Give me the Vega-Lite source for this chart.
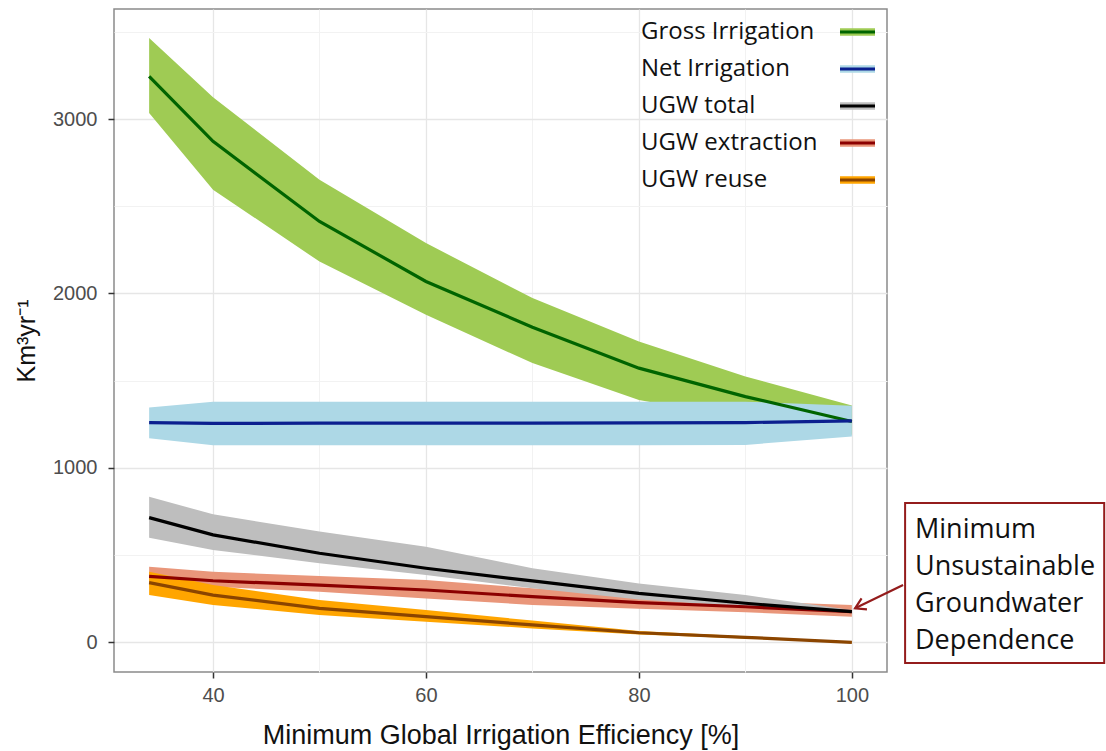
{
  "$schema": "https://vega.github.io/schema/vega-lite/v6.json",
  "width": 773,
  "height": 663,
  "autosize": {"type": "none"},
  "padding": {"left": 114, "top": 9, "right": 219, "bottom": 79},
  "background": "white",
  "config": {
    "view": {"stroke": "#8a8a8a", "strokeWidth": 1.5},
    "axis": {
      "domain": false,
      "tickColor": "#333333",
      "tickSize": 6,
      "tickWidth": 1.5,
      "labelFont": "Liberation Sans",
      "labelFontSize": 20,
      "labelColor": "#4d4d4d",
      "titleFont": "Liberation Sans",
      "titleFontWeight": "normal",
      "titleColor": "#111111"
    }
  },
  "datasets": {
    "series": [
      {"series": "Gross Irrigation", "eff": 34, "val": 3245, "lo": 3035, "hi": 3465},
      {"series": "Gross Irrigation", "eff": 40, "val": 2872, "lo": 2595, "hi": 3125},
      {"series": "Gross Irrigation", "eff": 50, "val": 2413, "lo": 2183, "hi": 2652},
      {"series": "Gross Irrigation", "eff": 60, "val": 2069, "lo": 1878, "hi": 2289},
      {"series": "Gross Irrigation", "eff": 70, "val": 1807, "lo": 1601, "hi": 1974},
      {"series": "Gross Irrigation", "eff": 80, "val": 1572, "lo": 1390, "hi": 1725},
      {"series": "Gross Irrigation", "eff": 90, "val": 1409, "lo": 1280, "hi": 1524},
      {"series": "Gross Irrigation", "eff": 100, "val": 1266, "lo": 1190, "hi": 1358},
      {"series": "Net Irrigation", "eff": 34, "val": 1260, "lo": 1170, "hi": 1346},
      {"series": "Net Irrigation", "eff": 40, "val": 1255, "lo": 1130, "hi": 1380},
      {"series": "Net Irrigation", "eff": 50, "val": 1257, "lo": 1130, "hi": 1380},
      {"series": "Net Irrigation", "eff": 60, "val": 1257, "lo": 1130, "hi": 1380},
      {"series": "Net Irrigation", "eff": 70, "val": 1257, "lo": 1130, "hi": 1380},
      {"series": "Net Irrigation", "eff": 80, "val": 1258, "lo": 1130, "hi": 1380},
      {"series": "Net Irrigation", "eff": 90, "val": 1260, "lo": 1132, "hi": 1380},
      {"series": "Net Irrigation", "eff": 100, "val": 1270, "lo": 1180, "hi": 1357},
      {"series": "UGW extraction", "eff": 34, "val": 378, "lo": 330, "hi": 434},
      {"series": "UGW extraction", "eff": 40, "val": 353, "lo": 319, "hi": 405},
      {"series": "UGW extraction", "eff": 50, "val": 328, "lo": 290, "hi": 380},
      {"series": "UGW extraction", "eff": 60, "val": 300, "lo": 252, "hi": 357},
      {"series": "UGW extraction", "eff": 70, "val": 262, "lo": 214, "hi": 310},
      {"series": "UGW extraction", "eff": 80, "val": 228, "lo": 192, "hi": 271},
      {"series": "UGW extraction", "eff": 90, "val": 204, "lo": 172, "hi": 236},
      {"series": "UGW extraction", "eff": 100, "val": 176, "lo": 147, "hi": 214},
      {"series": "UGW total", "eff": 34, "val": 715, "lo": 600, "hi": 835},
      {"series": "UGW total", "eff": 40, "val": 616, "lo": 530, "hi": 734},
      {"series": "UGW total", "eff": 50, "val": 511, "lo": 453, "hi": 635},
      {"series": "UGW total", "eff": 60, "val": 425, "lo": 386, "hi": 548},
      {"series": "UGW total", "eff": 70, "val": 352, "lo": 310, "hi": 425},
      {"series": "UGW total", "eff": 80, "val": 281, "lo": 245, "hi": 338},
      {"series": "UGW total", "eff": 90, "val": 224, "lo": 205, "hi": 271},
      {"series": "UGW total", "eff": 100, "val": 176, "lo": 170, "hi": 185},
      {"series": "UGW reuse", "eff": 34, "val": 342, "lo": 271, "hi": 405},
      {"series": "UGW reuse", "eff": 40, "val": 271, "lo": 214, "hi": 329},
      {"series": "UGW reuse", "eff": 50, "val": 195, "lo": 157, "hi": 243},
      {"series": "UGW reuse", "eff": 60, "val": 147, "lo": 118, "hi": 185},
      {"series": "UGW reuse", "eff": 70, "val": 100, "lo": 80, "hi": 125},
      {"series": "UGW reuse", "eff": 80, "val": 55, "lo": 45, "hi": 65},
      {"series": "UGW reuse", "eff": 90, "val": 29, "lo": 22, "hi": 35},
      {"series": "UGW reuse", "eff": 100, "val": 0, "lo": -3, "hi": 3}
    ],
    "note": [
      {"bx1": 105.0, "bx2": 123.7, "by1": 799, "by2": -118, "tx": 105.93, "ty": 644, "label": "Minimum\nUnsustainable\nGroundwater\nDependence"}
    ],
    "arrow": [
      {"ax": 104.81, "ay": 329, "step": 0},
      {"ax": 100.3, "ay": 195, "step": 1}
    ],
    "tip": [
      {"ax": 100.3, "ay": 195}
    ]
  },
  "layer": [
    {
      "data": {"name": "series"},
      "mark": {"type": "area", "opacity": 1},
      "encoding": {
        "x": {
          "field": "eff", "type": "quantitative",
          "title": "Minimum Global Irrigation Efficiency [%]",
          "scale": {"domain": [30.7, 103.3], "nice": false, "zero": false},
          "axis": {
            "values": [40, 50, 60, 70, 80, 90, 100],
            "labelExpr": "datum.value % 20 === 0 ? datum.label : ''",
            "tickOpacity": {"condition": {"test": "datum.value % 20 === 0", "value": 1}, "value": 0},
            "gridColor": {"condition": {"test": "datum.value % 20 === 0", "value": "#e6e6e6"}, "value": "#f2f2f2"},
            "gridWidth": {"condition": {"test": "datum.value % 20 === 0", "value": 1.3}, "value": 1},
            "labelPadding": 7,
            "titleFontSize": 27,
            "titlePadding": 17
          }
        },
        "y": {
          "field": "lo", "type": "quantitative",
          "title": "Km³yr⁻¹",
          "scale": {"domain": [-170, 3631], "nice": false, "zero": false},
          "axis": {
            "values": [0, 500, 1000, 1500, 2000, 2500, 3000, 3500],
            "labelExpr": "datum.value % 1000 === 0 ? datum.label : ''",
            "format": "d",
            "tickOpacity": {"condition": {"test": "datum.value % 1000 === 0", "value": 1}, "value": 0},
            "gridColor": {"condition": {"test": "datum.value % 1000 === 0", "value": "#e6e6e6"}, "value": "#f2f2f2"},
            "gridWidth": {"condition": {"test": "datum.value % 1000 === 0", "value": 1.3}, "value": 1},
            "labelPadding": 11,
            "titleFontSize": 25,
            "titlePadding": 13
          }
        },
        "y2": {"field": "hi"},
        "fill": {
          "field": "series", "type": "nominal",
          "scale": {
            "domain": ["Gross Irrigation", "Net Irrigation", "UGW total", "UGW extraction", "UGW reuse"],
            "range": ["#9fcb54", "#add8e6", "#bebebe", "#e9967a", "#ffa500"]
          },
          "legend": {
            "orient": "none", "legendX": 724.5, "legendY": 4, "title": null, "padding": 0,
            "symbolType": "M-1,-0.22H1V0.22H-1Z", "symbolSize": 1225,
            "symbolStrokeWidth": 3, "symbolStrokeColor": "transparent", "symbolOpacity": 1,
            "labelAlign": "left", "labelOffset": -235.5, "labelLimit": 400,
            "labelFont": "Open Sans", "labelFontSize": 24, "labelColor": "#111111",
            "rowPadding": 6
          }
        }
      }
    },
    {
      "data": {"name": "series"},
      "mark": {"type": "line", "strokeWidth": 3.2},
      "encoding": {
        "x": {"field": "eff", "type": "quantitative", "title": "Minimum Global Irrigation Efficiency [%]"},
        "y": {"field": "val", "type": "quantitative", "title": "Km³yr⁻¹"},
        "stroke": {
          "field": "series", "type": "nominal",
          "scale": {
            "domain": ["Gross Irrigation", "Net Irrigation", "UGW total", "UGW extraction", "UGW reuse", "none"],
            "range": ["#006400", "#0b1f8f", "#000000", "#8b0000", "#8b4500", "transparent"]
          },
          "legend": {
            "values": ["Gross Irrigation", "Net Irrigation", "UGW total", "UGW extraction", "UGW reuse"],
            "orient": "none", "legendX": 724.5, "legendY": 4, "title": null, "padding": 0,
            "symbolType": "stroke", "symbolSize": 1225, "symbolStrokeWidth": 3,
            "labelAlign": "left", "labelOffset": -235.5, "labelLimit": 400,
            "labelFont": "Open Sans", "labelFontSize": 24, "labelExpr": "''",
            "rowPadding": 6
          }
        }
      }
    },
    {
      "data": {"name": "note"},
      "mark": {"type": "rect", "fill": "white", "stroke": "#941c1c", "strokeWidth": 2},
      "encoding": {
        "x": {"field": "bx1", "type": "quantitative", "title": "Minimum Global Irrigation Efficiency [%]"},
        "x2": {"field": "bx2"},
        "y": {"field": "by1", "type": "quantitative", "title": "Km³yr⁻¹"},
        "y2": {"field": "by2"}
      }
    },
    {
      "data": {"name": "note"},
      "mark": {"type": "text", "align": "left", "baseline": "middle", "lineBreak": "\n", "lineHeight": 37, "font": "Open Sans", "fontSize": 27, "color": "#111111"},
      "encoding": {
        "x": {"field": "tx", "type": "quantitative", "title": "Minimum Global Irrigation Efficiency [%]"},
        "y": {"field": "ty", "type": "quantitative", "title": "Km³yr⁻¹"},
        "text": {"field": "label"}
      }
    },
    {
      "data": {"name": "arrow"},
      "mark": {"type": "line", "color": "#941c1c", "strokeWidth": 2.2},
      "encoding": {
        "x": {"field": "ax", "type": "quantitative", "title": "Minimum Global Irrigation Efficiency [%]"},
        "y": {"field": "ay", "type": "quantitative", "title": "Km³yr⁻¹"},
        "order": {"field": "step"}
      }
    },
    {
      "data": {"name": "tip"},
      "mark": {"type": "point", "shape": "M-1,-0.6L0,0L-1,0.6", "size": 420, "filled": false, "stroke": "#941c1c", "strokeWidth": 2.2, "angle": 154, "opacity": 1},
      "encoding": {
        "x": {"field": "ax", "type": "quantitative", "title": "Minimum Global Irrigation Efficiency [%]"},
        "y": {"field": "ay", "type": "quantitative", "title": "Km³yr⁻¹"}
      }
    }
  ]
}
